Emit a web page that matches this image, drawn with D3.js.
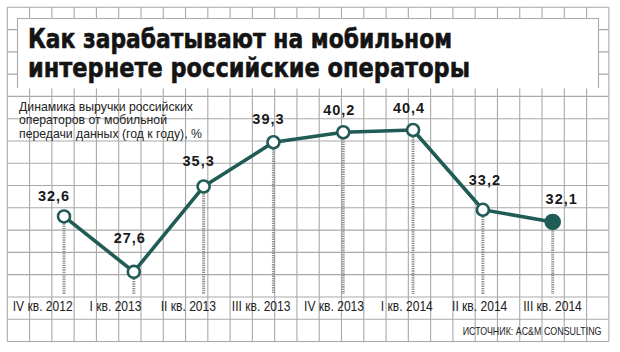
<!DOCTYPE html>
<html>
<head>
<meta charset="utf-8">
<script src="https://cdn.jsdelivr.net/npm/d3@7"></script>
<style>
    body { margin: 0; background: #fff; }
    svg { display: block; }
    .title { font-family: "DejaVu Sans", sans-serif; font-weight: bold; font-size: 27px; fill: #141414; }
    .subtitle { font-family: "Liberation Sans", Arial, sans-serif; font-size: 13px; fill: #222; }
    .value-label { font-family: "Liberation Sans", Arial, sans-serif; font-weight: bold; font-size: 14.5px; letter-spacing: 1px; fill: #1a1a1a; text-anchor: middle; }
    .quarter-label { font-family: "Liberation Sans", Arial, sans-serif; font-size: 15px; fill: #222; text-anchor: middle; }
    .source { font-family: "Liberation Sans", Arial, sans-serif; font-size: 10.5px; fill: #222; text-anchor: end; }
</style>
</head>
<body>
<svg id="d3-mobile-revenue" width="620" height="352"></svg>
<script>

/*********************/
/*** INIT VARIABLE ***/
/*********************/

let quarters = ["IV кв. 2012", "I кв. 2013", "II кв. 2013", "III кв. 2013",
                "IV кв. 2013", "I кв. 2014", "II кв. 2014", "III кв. 2014"];

let growth = [32.6, 27.6, 35.3, 39.3, 40.2, 40.4, 33.2, 32.1];

let value_text = ["32,6", "27,6", "35,3", "39,3", "40,2", "40,4", "33,2", "32,1"];

let title_lines = ["Как зарабатывают на мобильном", "интернете российские операторы"];

let subtitle_lines = ["Динамика выручки российских", "операторов от мобильной", "передачи данных (год к году), %"];

let source_text = "ИСТОЧНИК: AC&M CONSULTING";

// label nudges (dx, distance above point)
let label_dx = [-10, -4, -5, -5, -4, -4, 2, 9],
    label_up = [15, 29, 21, 18, 17, 17, 25, 18];

let svg = d3.select('#d3-mobile-revenue');

let grid = {x0: 7.3, y0: 7.3, cell: 22.28, cols: 27, rows: 15},
    line_color = "#215b56",
    grid_color = "#a9a9a9";

let x = d3.scalePoint().domain(quarters).range([64, 552.7]),
    x_label = d3.scalePoint().domain(quarters).range([42.7, 552.5]),
    y = d3.scaleLinear().domain([25.6, 42]).range([294, 112.3]);

let data = quarters.map((q, i) => ({q: q, v: growth[i], t: value_text[i], i: i}));

/********************************/
/*** DECLARE HELPER FUNCTIONS ***/
/********************************/

// narrow text: no condensed face is installed, so squeeze a group of
// texts horizontally so that the first one has the wanted width
function narrow_group(cls, items, want_width) {
    let texts = items.map((it) => {
        let g = svg.append("g");
        let t = g.append("text").classed(cls, true).text(it.text);
        return {g: g, t: t, x: it.x, y: it.y};
    });
    let sx = want_width / texts[0].t.node().getComputedTextLength();
    texts.forEach((d) => d.g.attr("transform", "translate(" + d.x + "," + d.y + ") scale(" + sx + ",1)"));
}

function draw_grid() {
    let g = svg.append("g").attr("class", "grid");
    let x1 = grid.x0 + grid.cols * grid.cell,
        y1 = grid.y0 + grid.rows * grid.cell;

    g.selectAll("line.v")
        .data(d3.range(grid.cols + 1)).enter()
        .append("line")
        .attr("x1", (d) => grid.x0 + d * grid.cell)
        .attr("x2", (d) => grid.x0 + d * grid.cell)
        .attr("y1", grid.y0)
        .attr("y2", y1)
        .attr("stroke", grid_color)
        .attr("stroke-width", 1.1);

    g.selectAll("line.h")
        .data(d3.range(grid.rows + 1)).enter()
        .append("line")
        .attr("x1", grid.x0)
        .attr("x2", x1)
        .attr("y1", (d) => grid.y0 + d * grid.cell)
        .attr("y2", (d) => grid.y0 + d * grid.cell)
        .attr("stroke", grid_color)
        .attr("stroke-width", 1.1);
}

function draw_title() {
    // white panel over the grid, border on three sides
    svg.append("rect")
        .attr("x", 17.5).attr("y", 18.5)
        .attr("width", 581).attr("height", 70)
        .attr("fill", "#fff");
    svg.append("path")
        .attr("d", "M17.5,88 V18.5 H598.5 V88")
        .attr("fill", "none")
        .attr("stroke", grid_color)
        .attr("stroke-width", 1.1);

    svg.selectAll("text.title")
        .data(title_lines).enter()
        .append("text")
        .classed("title", true)
        .attr("x", 28)
        .attr("y", (d, i) => 48 + i * 29)
        .attr("textLength", (d, i) => i === 0 ? 424 : 442)
        .attr("lengthAdjust", "spacingAndGlyphs")
        .style("stroke", "#141414")
        .style("stroke-width", 0.6)
        .text((d) => d);
}

function draw_subtitle() {
    narrow_group("subtitle",
        subtitle_lines.map((line, i) => ({text: line, x: 19, y: 110.7 + i * 13.5})), 174);
}

function draw_series() {
    // dotted drop lines
    svg.selectAll("line.drop")
        .data(data).enter()
        .append("line")
        .classed("drop", true)
        .attr("x1", (d) => x(d.q))
        .attr("x2", (d) => x(d.q))
        .attr("y1", (d) => y(d.v))
        .attr("y2", y(y.domain()[0]))
        .attr("stroke", "#8f8f8f")
        .attr("stroke-width", 3)
        .attr("stroke-dasharray", "1.3,1");

    svg.append("path")
        .datum(data)
        .attr("fill", "none")
        .attr("stroke", line_color)
        .attr("stroke-width", 3.6)
        .attr("stroke-linejoin", "round")
        .attr("d", d3.line().x((d) => x(d.q)).y((d) => y(d.v)));

    svg.selectAll("circle.pt")
        .data(data).enter()
        .append("circle")
        .classed("pt", true)
        .attr("cx", (d) => x(d.q))
        .attr("cy", (d) => y(d.v))
        .attr("r", (d) => d.i === data.length - 1 ? 7 : 6)
        .attr("fill", (d) => d.i === data.length - 1 ? line_color : "#fff")
        .attr("stroke", line_color)
        .attr("stroke-width", 2.6);

    svg.selectAll("text.value-label")
        .data(data).enter()
        .append("text")
        .classed("value-label", true)
        .attr("x", (d) => x(d.q) + label_dx[d.i])
        .attr("y", (d) => y(d.v) - label_up[d.i])
        .text((d) => d.t);
}

function draw_axis() {
    narrow_group("quarter-label",
        quarters.map((q) => ({text: q, x: x_label(q), y: 310.7})), 60);

    narrow_group("source", [{text: source_text, x: 601.5, y: 334.5}], 139);
}

/*******************/
/*** DRAW CHART ***/
/*******************/

draw_grid();
draw_title();
draw_subtitle();
draw_series();
draw_axis();

</script>
</body>
</html>
